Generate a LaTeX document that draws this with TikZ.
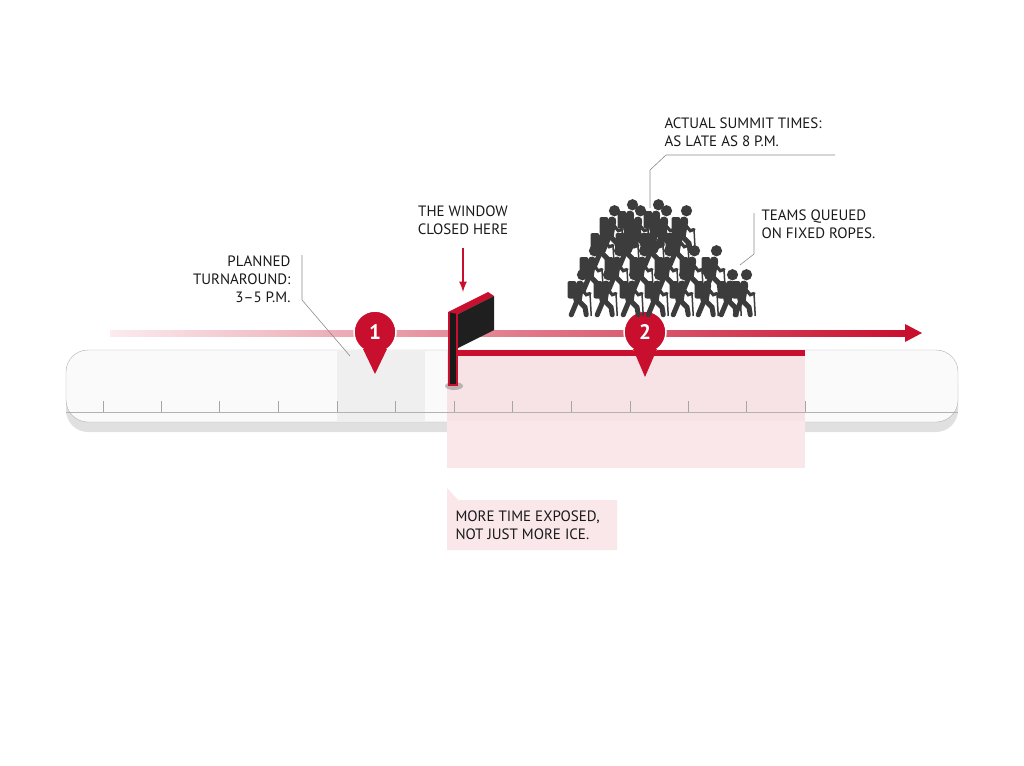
\documentclass[tikz,border=0pt]{standalone}
\usepackage{fontspec}
\setmainfont{PT Sans}
\usetikzlibrary{positioning}
\definecolor{alarm}{HTML}{C8102E}
\definecolor{crowd}{HTML}{3C3C3C}
\tikzset{
  note/.style={font=\fontsize{15}{18}\selectfont, align=left, text=black!90},
  leader/.style={draw=black!45, line width=0.6pt},
  pin/.style={circle, fill=alarm, draw=white, line width=1.5pt, minimum size=42pt, inner sep=0pt,
              text=white, font=\bfseries\fontsize{21}{21}\selectfont},
  hiker/.pic={
    \fill[crowd] (2,-33) circle (4.5);
    \draw[crowd, line width=8.5pt, line cap=round] (0,-25) -- (-2,-13);
    \fill[crowd, rounded corners=2pt] (-10,-28) rectangle (-3,-14);
    \draw[crowd, line width=5pt, line cap=round] (-2,-13) -- (-7,-1);
    \draw[crowd, line width=5pt, line cap=round] (-2,-13) -- (4,-7) -- (5,-1);
    \draw[crowd, line width=3.2pt, line cap=round] (0,-23) -- (5,-17) -- (8,-18);
    \draw[crowd, line width=1.5pt] (8,-18) -- (9,0);
  }
}
\begin{document}
\begin{tikzpicture}[x=1pt,y=-1pt]
  \useasboundingbox[fill=white] (0,0) rectangle (1024,765);
  % red exposure band
  \fill[alarm!12] (447,350) rectangle (805,468);
  % timeline bar
  \fill[black!12, rounded corners=22pt] (66,360) rectangle (958,432);
  \draw[black!30, fill=black!2, rounded corners=22pt] (66,350) rectangle (958,422);
  \fill[black!8, opacity=0.7] (337,351) rectangle (425,421);
  \fill[alarm!14, opacity=0.85] (447,351) rectangle (805,421);
  \fill[alarm!10] (447,421) rectangle (805,468);
  \draw[black!30] (66,412) -- (958,412);
  \foreach \tx in {103,161,219,278,337,395,454,512,571,630,688,746,805}
    \draw[black!35] (\tx,401) -- (\tx,412);
  % time arrow
  \shade[left color=alarm!8, right color=alarm] (110,330) rectangle (906,336);
  \fill[alarm] (905,324) -- (922,333) -- (905,342) -- cycle;
  \fill[alarm] (455,350) rectangle (805,356);
  % flag
  \fill[black!50, opacity=0.5] (454,386) ellipse (9 and 4);
  \fill[alarm] (448,312) rectangle (458,386);
  \fill[black!90] (450,312) rectangle (456,384);
  \fill[alarm] (448,312) -- (488,292) -- (494,296) -- (458,314) -- cycle;
  \fill[black!88] (458,314) -- (494,296) -- (494,330) -- (458,348) -- cycle;
  \draw[alarm, line width=2.5pt, -latex] (463,248) -- (463,292);
  % markers
  \node[pin] (m1) at (375,332) {1};
  \fill[alarm] (363,349) -- (375,374) -- (387,349) -- cycle;
  \node[pin] (m2) at (645,332) {2};
  \fill[alarm] (633,349) -- (645,377) -- (657,349) -- cycle;
  % crowd
  \foreach \hx in {580,606,632,657,682,707,730}
    \pic[scale=1.25] at (\hx,316) {hiker};
  \foreach \hx in {592,617,642,667,692,714}
    \pic[scale=1.25] at (\hx,292) {hiker};
  \foreach \hx in {603,628,653,678}
    \pic[scale=1.25] at (\hx,268) {hiker};
  \foreach \hx in {612,638,664,684}
    \pic[scale=1.25] at (\hx,252) {hiker};
  \foreach \hx in {630,656}
    \pic[scale=1.25] at (\hx,246) {hiker};
  \pic[scale=1.25] at (744,316) {hiker};
  % texts
  \node[note, align=right, anchor=north east] (plan) at (294,252) {PLANNED\\TURNAROUND:\\3–5 P.M.};
  \node[note, align=center, anchor=south] (window) at (463,238) {THE WINDOW\\CLOSED HERE};
  \node[note, anchor=south west] (actual) at (661,150) {ACTUAL SUMMIT TIMES:\\AS LATE AS 8 P.M.};
  \node[note, anchor=north west] (teams) at (758,206) {TEAMS QUEUED\\ON FIXED ROPES.};
  \coordinate (planend) at (350,356);
  \coordinate (actualend) at (650,208);
  \coordinate (teamsend) at (740,265);
  \draw[leader] (302,255) -- (302,300) -- (planend);
  \draw[leader] (835,155) -- (666,155) -- (650,170) -- (actualend);
  \draw[leader] (754,213) -- (754,254) -- (teamsend);
  % callout
  \fill[alarm!10] (447,488) -- (458,500) -- (617,500) -- (617,550) -- (447,550) -- cycle;
  \node[note, anchor=west] (exposed) at (452,525) {MORE TIME EXPOSED,\\NOT JUST MORE ICE.};
\end{tikzpicture}
\end{document}
